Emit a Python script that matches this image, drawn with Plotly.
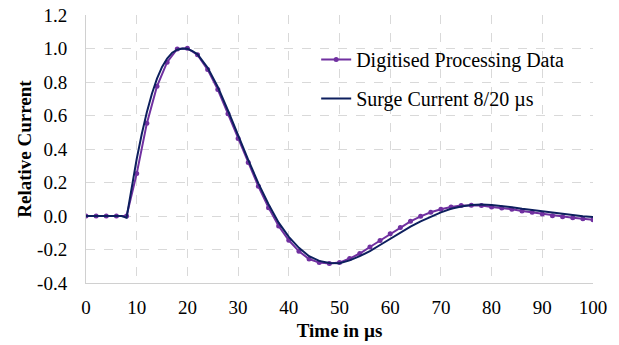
import plotly.graph_objects as go

t_dig = list(range(0, 101, 2))
i_dig = [0, 0, 0, 0, 0, 0.253, 0.553, 0.774, 0.918, 0.997, 1.002, 0.962, 0.874, 0.755,
         0.611, 0.462, 0.319, 0.177, 0.05, -0.06, -0.145, -0.211, -0.257, -0.278, -0.284,
         -0.278, -0.254, -0.224, -0.185, -0.147, -0.106, -0.069, -0.032, -0.002, 0.022,
         0.04, 0.054, 0.062, 0.064, 0.062, 0.054, 0.048, 0.04, 0.03, 0.022, 0.012, 0.002,
         -0.004, -0.01, -0.016, -0.022]

# Surge current 8/20 µs reference curve
t_surge = [0, 7, 8, 9, 10, 11, 12, 13, 14, 15, 16, 17, 18, 19, 20, 21, 22, 24, 26, 28, 30,
           32, 34, 36, 38, 40, 42, 44, 46, 48, 50, 52, 54, 56, 58, 60, 62, 64, 66, 68, 70,
           72, 74, 76, 78, 80, 82, 84, 86, 88, 90, 92, 94, 96, 98, 100]
i_surge = [0, 0, -0.01, 0.17, 0.34, 0.49, 0.62, 0.73, 0.82, 0.89, 0.94, 0.975, 0.993, 1.0,
           0.998, 0.985, 0.965, 0.885, 0.77, 0.63, 0.48, 0.335, 0.195, 0.07, -0.04, -0.125,
           -0.19, -0.24, -0.268, -0.28, -0.282, -0.265, -0.24, -0.21, -0.173, -0.135,
           -0.098, -0.063, -0.032, -0.003, 0.022, 0.043, 0.057, 0.065, 0.068, 0.066, 0.06,
           0.052, 0.043, 0.035, 0.026, 0.018, 0.01, 0.003, -0.002, -0.006]

y_ticks = [-0.4, -0.2, 0.0, 0.2, 0.4, 0.6, 0.8, 1.0, 1.2]
y_tick_labels = ["-0.4", "-0.2", "0.0", "0.2", "0.4", "0.6", "0.8", "1.0", "1.2"]
x_ticks = list(range(0, 101, 10))

FONT = "Liberation Serif, Times New Roman, serif"

fig = go.Figure()
fig.add_trace(go.Scatter(
    x=t_dig, y=i_dig, mode="lines+markers", name="Digitised Processing Data",
    line=dict(color="#7030A0", width=2), marker=dict(color="#7030A0", size=5),
    legendgroup="a"))
fig.add_trace(go.Scatter(
    x=t_surge, y=i_surge, mode="lines", name="Surge Current 8/20 µs",
    line=dict(color="#0D1F5E", width=2), legendgroup="b"))

fig.update_layout(
    width=619, height=345,
    margin=dict(l=86, r=26, t=15, b=62),
    paper_bgcolor="white", plot_bgcolor="white",
    font=dict(family=FONT, size=19, color="black"),
    showlegend=True,
    legend=dict(x=0.454, y=0.907, xanchor="left", yanchor="top",
                bgcolor="rgba(0,0,0,0)", font=dict(size=20, family=FONT),
                tracegroupgap=10, itemwidth=30),
)
fig.update_xaxes(
    range=[0, 100], tickvals=x_ticks, showgrid=True, gridcolor="#D9D9D9",
    griddash="dash", gridwidth=1, zeroline=False, showline=True, linecolor="#D0D0D0",
    linewidth=1, ticks="", ticklabelstandoff=7, automargin=False,
    title=dict(text="<b>Time in µs</b>", font=dict(size=19, family=FONT), standoff=6),
    tickfont=dict(size=19, family=FONT))
fig.update_yaxes(
    range=[-0.4, 1.2], tickvals=y_ticks, ticktext=y_tick_labels, showgrid=True,
    gridcolor="#D9D9D9", griddash="dash", gridwidth=1, zeroline=False, showline=True,
    linecolor="#D0D0D0", linewidth=1, ticks="", ticklabelstandoff=14, automargin=False,
    title=dict(text="<b>Relative Current</b>", font=dict(size=19, family=FONT), standoff=0),
    tickfont=dict(size=19, family=FONT))

# remove the browser's default 8px body margin so the figure fills the window
fig.write_html("out.html", config={"displayModeBar": False},
               post_script="document.body.style.margin='0px';")
